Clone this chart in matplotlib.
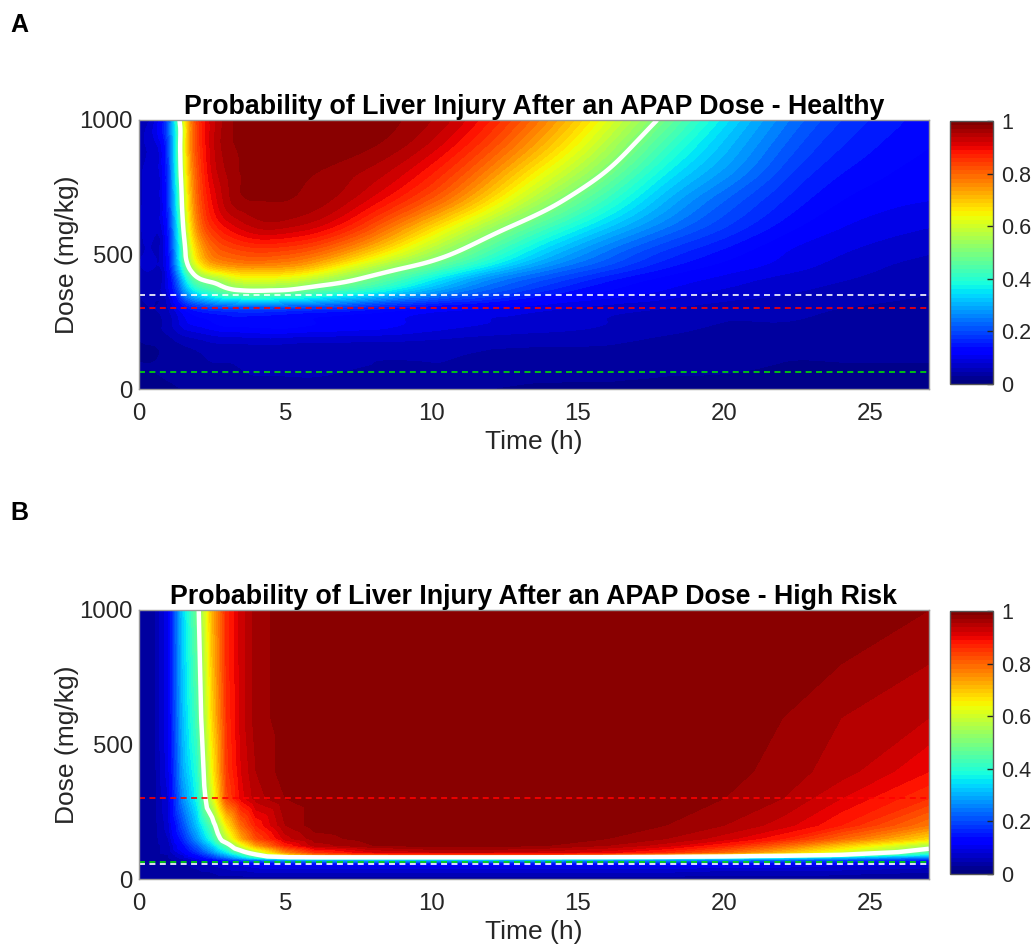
import numpy as np
import matplotlib
matplotlib.use('Agg')
import matplotlib.pyplot as plt
import matplotlib.tri as mtri
from matplotlib.cm import ScalarMappable
from matplotlib.colors import Normalize

plt.rcParams['font.family'] = ['Liberation Sans', 'DejaVu Sans']
plt.rcParams['lines.scale_dashes'] = False

# ---- panel A (healthy): probability read on a time x dose grid ----
times_a = [0, 0.5, 1, 1.5, 2, 2.5, 3, 4, 5, 6, 8, 10, 12, 14, 16, 18, 20, 22, 24, 27]
doses_a = [0, 100, 200, 250, 300, 350, 400, 450, 500, 600, 700, 800, 900, 1000]
prob_a = [
    [0.01, 0.01, 0.015, 0.02, 0.02, 0.02, 0.025, 0.025, 0.025, 0.025, 0.02, 0.02, 0.02, 0.015, 0.015, 0.015, 0.01, 0.01, 0.01, 0.01],
    [0.02, 0.02, 0.025, 0.03, 0.035, 0.04, 0.04, 0.045, 0.045, 0.045, 0.04, 0.04, 0.035, 0.03, 0.03, 0.025, 0.025, 0.02, 0.02, 0.02],
    [0.025, 0.03, 0.04, 0.06, 0.07, 0.08, 0.085, 0.09, 0.09, 0.085, 0.08, 0.07, 0.06, 0.055, 0.05, 0.04, 0.035, 0.03, 0.03, 0.025],
    [0.03, 0.035, 0.05, 0.09, 0.11, 0.12, 0.13, 0.13, 0.13, 0.12, 0.11, 0.09, 0.08, 0.07, 0.06, 0.05, 0.04, 0.04, 0.035, 0.03],
    [0.03, 0.04, 0.06, 0.12, 0.16, 0.18, 0.19, 0.2, 0.19, 0.18, 0.15, 0.12, 0.1, 0.085, 0.07, 0.06, 0.05, 0.045, 0.04, 0.035],
    [0.04, 0.05, 0.08, 0.22, 0.33, 0.38, 0.42, 0.44, 0.43, 0.4, 0.33, 0.25, 0.19, 0.14, 0.11, 0.09, 0.07, 0.06, 0.05, 0.04],
    [0.04, 0.05, 0.1, 0.3, 0.46, 0.51, 0.56, 0.6, 0.59, 0.55, 0.46, 0.35, 0.25, 0.19, 0.14, 0.11, 0.09, 0.07, 0.06, 0.05],
    [0.05, 0.06, 0.12, 0.39, 0.6, 0.69, 0.72, 0.74, 0.73, 0.69, 0.56, 0.45, 0.34, 0.25, 0.19, 0.14, 0.11, 0.09, 0.07, 0.05],
    [0.05, 0.06, 0.13, 0.44, 0.68, 0.78, 0.81, 0.83, 0.82, 0.79, 0.67, 0.54, 0.42, 0.31, 0.23, 0.17, 0.13, 0.1, 0.08, 0.06],
    [0.05, 0.07, 0.15, 0.49, 0.76, 0.86, 0.9, 0.94, 0.94, 0.92, 0.82, 0.68, 0.54, 0.42, 0.32, 0.24, 0.18, 0.13, 0.1, 0.08],
    [0.05, 0.07, 0.17, 0.53, 0.8, 0.9, 0.95, 0.98, 0.98, 0.97, 0.91, 0.81, 0.67, 0.53, 0.41, 0.3, 0.22, 0.16, 0.12, 0.1],
    [0.05, 0.07, 0.18, 0.56, 0.82, 0.92, 0.96, 0.99, 0.99, 0.98, 0.95, 0.88, 0.76, 0.62, 0.49, 0.36, 0.27, 0.19, 0.14, 0.11],
    [0.05, 0.07, 0.19, 0.58, 0.84, 0.93, 0.97, 0.99, 1.0, 1.0, 0.98, 0.93, 0.83, 0.7, 0.56, 0.42, 0.31, 0.22, 0.16, 0.12],
    [0.05, 0.07, 0.2, 0.6, 0.85, 0.93, 0.97, 0.99, 1.0, 1.0, 0.99, 0.96, 0.88, 0.76, 0.62, 0.48, 0.35, 0.25, 0.18, 0.13],
]

# ---- panel B (high risk) ----
times_b = [0, 0.5, 1, 1.5, 2, 2.5, 3, 3.5, 4, 5, 6, 8, 10, 12, 14, 16, 18, 20, 22, 24, 27]
doses_b = [0, 25, 50, 60, 70, 80, 90, 100, 125, 150, 200, 300, 400, 600, 800, 1000]
prob_b = [
    [0.02, 0.02, 0.02, 0.02, 0.025, 0.03, 0.03, 0.03, 0.03, 0.03, 0.03, 0.03, 0.03, 0.03, 0.03, 0.03, 0.03, 0.03, 0.03, 0.02, 0.02],
    [0.02, 0.02, 0.025, 0.03, 0.035, 0.04, 0.05, 0.05, 0.06, 0.06, 0.06, 0.06, 0.06, 0.06, 0.06, 0.06, 0.06, 0.05, 0.05, 0.05, 0.04],
    [0.02, 0.02, 0.03, 0.035, 0.045, 0.06, 0.07, 0.08, 0.09, 0.1, 0.1, 0.1, 0.1, 0.1, 0.1, 0.1, 0.1, 0.09, 0.09, 0.08, 0.07],
    [0.02, 0.02, 0.03, 0.04, 0.05, 0.07, 0.09, 0.11, 0.13, 0.15, 0.16, 0.16, 0.16, 0.16, 0.16, 0.16, 0.15, 0.14, 0.13, 0.12, 0.1],
    [0.02, 0.02, 0.03, 0.05, 0.08, 0.11, 0.15, 0.19, 0.22, 0.26, 0.28, 0.29, 0.29, 0.29, 0.28, 0.27, 0.26, 0.24, 0.22, 0.19, 0.15],
    [0.02, 0.03, 0.04, 0.07, 0.11, 0.17, 0.24, 0.32, 0.4, 0.47, 0.48, 0.48, 0.48, 0.48, 0.47, 0.46, 0.44, 0.41, 0.37, 0.32, 0.24],
    [0.02, 0.03, 0.04, 0.08, 0.14, 0.21, 0.3, 0.39, 0.49, 0.66, 0.76, 0.8, 0.82, 0.82, 0.81, 0.78, 0.73, 0.66, 0.58, 0.5, 0.36],
    [0.02, 0.03, 0.05, 0.1, 0.17, 0.26, 0.36, 0.47, 0.58, 0.76, 0.86, 0.92, 0.94, 0.94, 0.93, 0.91, 0.87, 0.8, 0.71, 0.61, 0.44],
    [0.02, 0.03, 0.05, 0.13, 0.22, 0.33, 0.46, 0.62, 0.74, 0.88, 0.95, 0.98, 0.99, 0.99, 0.98, 0.96, 0.93, 0.88, 0.8, 0.7, 0.56],
    [0.02, 0.03, 0.06, 0.16, 0.27, 0.4, 0.58, 0.73, 0.83, 0.93, 0.97, 0.99, 1.0, 1.0, 0.99, 0.98, 0.96, 0.93, 0.88, 0.8, 0.68],
    [0.02, 0.03, 0.07, 0.2, 0.32, 0.46, 0.66, 0.8, 0.88, 0.96, 0.99, 1.0, 1.0, 1.0, 1.0, 0.99, 0.98, 0.96, 0.93, 0.88, 0.78],
    [0.02, 0.03, 0.08, 0.26, 0.38, 0.6, 0.83, 0.91, 0.95, 0.98, 0.99, 1.0, 1.0, 1.0, 1.0, 1.0, 0.99, 0.98, 0.96, 0.92, 0.86],
    [0.02, 0.03, 0.09, 0.29, 0.4, 0.64, 0.85, 0.92, 0.96, 0.99, 1.0, 1.0, 1.0, 1.0, 1.0, 1.0, 0.99, 0.99, 0.97, 0.95, 0.9],
    [0.02, 0.03, 0.1, 0.31, 0.44, 0.68, 0.86, 0.93, 0.97, 0.99, 1.0, 1.0, 1.0, 1.0, 1.0, 1.0, 1.0, 0.99, 0.98, 0.96, 0.94],
    [0.02, 0.03, 0.1, 0.32, 0.46, 0.7, 0.87, 0.93, 0.97, 0.99, 1.0, 1.0, 1.0, 1.0, 1.0, 1.0, 1.0, 1.0, 0.99, 0.98, 0.96],
    [0.02, 0.03, 0.1, 0.33, 0.48, 0.72, 0.87, 0.93, 0.97, 0.99, 1.0, 1.0, 1.0, 1.0, 1.0, 1.0, 1.0, 1.0, 1.0, 0.99, 0.98],
]

# reference dose lines (mg/kg) and their colours
ref_doses_a = [350, 300, 62]
ref_doses_b = [55, 300, 62]
ref_colors = ['white', '#ff0000', '#00e000']

title_a = 'Probability of Liver Injury After an APAP Dose - Healthy'
title_b = 'Probability of Liver Injury After an APAP Dose - High Risk'

W, H = 1036, 948
GRAY = '#262626'


def box(l, t, r, b):
    return [l / W, 1 - b / H, (r - l) / W, (b - t) / H]


def grid_tri(t, d):
    nt, nd = len(t), len(d)
    T, D = np.meshgrid(np.array(t) / 27.0, np.array(d) / 1000.0)
    tris = []
    for i in range(nd - 1):
        for j in range(nt - 1):
            k = i * nt + j
            tris.append([k, k + 1, k + nt + 1])
            tris.append([k, k + nt + 1, k + nt])
    return mtri.Triangulation(T.ravel(), D.ravel(), np.array(tris))


def draw(ax, cax, t, d, p, title, refs, smooth):
    tri = grid_tri(t, d)
    z = np.array(p, dtype=float).ravel()
    if smooth:
        tri, z = mtri.UniformTriRefiner(tri).refine_field(z, subdiv=4)
    z = np.clip(z, 0, 1)
    tri = mtri.Triangulation(tri.x * 27, tri.y * 1000, tri.triangles)
    levels = np.linspace(0, 1, 51)
    levels[-1] = 1.001
    ax.tricontourf(tri, z, levels=levels, cmap='jet', vmin=0, vmax=1)
    ax.tricontour(tri, z, levels=[0.5], colors='white', linewidths=3.2)
    for y, c in zip(refs, ref_colors):
        ax.axhline(y, color=c, lw=1.2, dashes=(4.3, 3.2))
    ax.set_xlim(0, 27)
    ax.set_ylim(0, 1000)
    ax.set_xticks([0, 5, 10, 15, 20, 25])
    ax.set_yticks([0, 500, 1000])
    ax.tick_params(length=0, labelsize=17.3, colors=GRAY, pad=4.5)
    ax.tick_params(axis='x', pad=10)
    for s in ax.spines.values():
        s.set_color('#9a9a9a')
        s.set_linewidth(1)
    ax.set_xlabel('Time (h)', fontsize=19, color=GRAY, labelpad=4)
    ax.set_ylabel('Dose (mg/kg)', fontsize=19, color=GRAY, labelpad=0.5)
    ax.set_title(title, fontsize=19.3, fontweight='bold', color='black', pad=2)

    cb = plt.colorbar(ScalarMappable(Normalize(0, 1), plt.get_cmap('jet', 64)), cax=cax)
    cb.set_ticks([0, 0.2, 0.4, 0.6, 0.8, 1])
    cb.set_ticklabels(['0', '0.2', '0.4', '0.6', '0.8', '1'])
    cax.tick_params(direction='in', length=4, width=1, colors=GRAY, labelsize=15.5, pad=6)
    cb.outline.set_edgecolor('#555555')
    cb.outline.set_linewidth(1)


fig = plt.figure(figsize=(W / 100, H / 100), dpi=100)
ax_a = fig.add_axes(box(139, 120, 929, 389))
cax_a = fig.add_axes(box(950, 121, 993, 384))
ax_b = fig.add_axes(box(139, 610, 929, 879))
cax_b = fig.add_axes(box(950, 611, 993, 874))

draw(ax_a, cax_a, times_a, doses_a, prob_a, title_a, ref_doses_a, True)
draw(ax_b, cax_b, times_b, doses_b, prob_b, title_b, ref_doses_b, False)

fig.text(10 / W, 1 - 25 / H, 'A', fontsize=18, fontweight='bold', va='center', ha='left')
fig.text(10 / W, 1 - 513 / H, 'B', fontsize=18, fontweight='bold', va='center', ha='left')

fig.savefig('out.png', dpi=100)
